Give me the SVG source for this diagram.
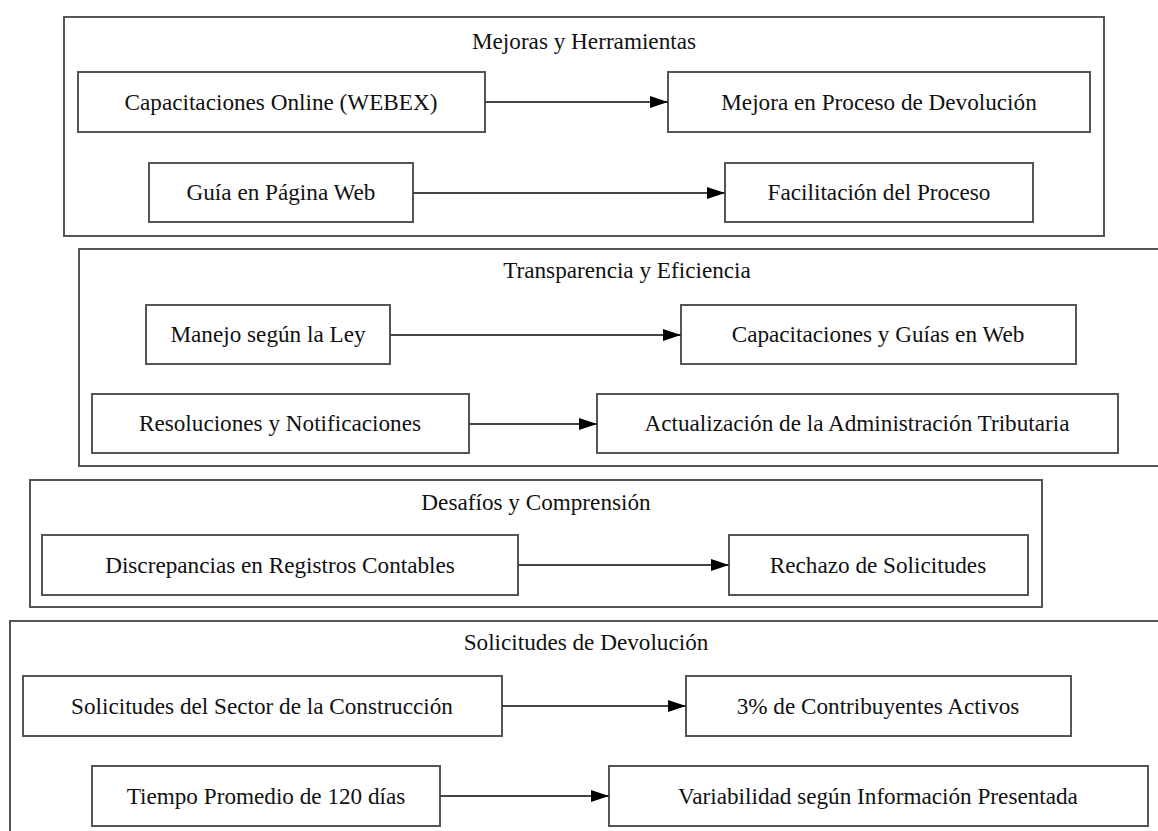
<svg xmlns="http://www.w3.org/2000/svg" width="1158" height="831" viewBox="0 0 1158 831">
<defs>
<style>
text{font-family:"Liberation Serif","Times New Roman",serif;font-size:23.2px;fill:#111;text-anchor:middle}
.cl{fill:none;stroke:#555;stroke-width:2}
.nd{fill:#fff;stroke:#555;stroke-width:2}
.ed{fill:none;stroke:#444;stroke-width:2}
</style>
<marker id="ah" viewBox="0 0 18 12" refX="18" refY="6" markerWidth="18" markerHeight="12" markerUnits="userSpaceOnUse" orient="auto">
<path d="M0,0 L18,6 L0,12 z" fill="#000"/>
</marker>
</defs>
<rect width="1158" height="831" fill="#fff"/>
<g id="cluster_mejoras">
<rect class="cl" x="64" y="17" width="1040" height="219"/>
<text x="584" y="49">Mejoras y Herramientas</text>
</g>
<g id="cluster_transparencia">
<rect class="cl" x="79" y="249" width="1090" height="217"/>
<text x="627" y="278">Transparencia y Eficiencia</text>
</g>
<g id="cluster_desafios">
<rect class="cl" x="30" y="480" width="1012" height="127"/>
<text x="536" y="510">Desafíos y Comprensión</text>
</g>
<g id="cluster_solicitudes">
<rect class="cl" x="10" y="621" width="1160" height="220"/>
<text x="586" y="650">Solicitudes de Devolución</text>
</g>
<g id="n_capacitaciones_online">
<rect class="nd" x="78" y="72" width="407" height="60"/>
<text x="281" y="110">Capacitaciones Online (WEBEX)</text>
</g>
<g id="n_mejora_proceso">
<rect class="nd" x="668" y="72" width="422" height="60"/>
<text x="879" y="110">Mejora en Proceso de Devolución</text>
</g>
<g id="n_guia_web">
<rect class="nd" x="149" y="163" width="264" height="59"/>
<text x="281" y="200">Guía en Página Web</text>
</g>
<g id="n_facilitacion">
<rect class="nd" x="725" y="163" width="308" height="59"/>
<text x="879" y="200">Facilitación del Proceso</text>
</g>
<g id="n_manejo_ley">
<rect class="nd" x="146" y="305" width="244" height="59"/>
<text x="268" y="342">Manejo según la Ley</text>
</g>
<g id="n_capacitaciones_guias">
<rect class="nd" x="681" y="305" width="395" height="59"/>
<text x="878" y="342">Capacitaciones y Guías en Web</text>
</g>
<g id="n_resoluciones">
<rect class="nd" x="92" y="394" width="377" height="59"/>
<text x="280" y="431">Resoluciones y Notificaciones</text>
</g>
<g id="n_actualizacion">
<rect class="nd" x="597" y="394" width="521" height="59"/>
<text x="857" y="431">Actualización de la Administración Tributaria</text>
</g>
<g id="n_discrepancias">
<rect class="nd" x="42" y="535" width="476" height="60"/>
<text x="280" y="573">Discrepancias en Registros Contables</text>
</g>
<g id="n_rechazo">
<rect class="nd" x="729" y="535" width="299" height="60"/>
<text x="878" y="573">Rechazo de Solicitudes</text>
</g>
<g id="n_solicitudes_sector">
<rect class="nd" x="23" y="676" width="479" height="60"/>
<text x="262" y="714">Solicitudes del Sector de la Construcción</text>
</g>
<g id="n_contribuyentes">
<rect class="nd" x="686" y="676" width="385" height="60"/>
<text x="878" y="714">3% de Contribuyentes Activos</text>
</g>
<g id="n_tiempo">
<rect class="nd" x="92" y="766" width="348" height="60"/>
<text x="266" y="804">Tiempo Promedio de 120 días</text>
</g>
<g id="n_variabilidad">
<rect class="nd" x="609" y="766" width="539" height="60"/>
<text x="878" y="804">Variabilidad según Información Presentada</text>
</g>
<g id="connectors">
<path class="ed" d="M485,102 L668,102" marker-end="url(#ah)"/>
<path class="ed" d="M413,193 L725,193" marker-end="url(#ah)"/>
<path class="ed" d="M390,335 L681,335" marker-end="url(#ah)"/>
<path class="ed" d="M469,424 L597,424" marker-end="url(#ah)"/>
<path class="ed" d="M518,565 L729,565" marker-end="url(#ah)"/>
<path class="ed" d="M502,706 L686,706" marker-end="url(#ah)"/>
<path class="ed" d="M440,796 L609,796" marker-end="url(#ah)"/>
</g>
</svg>
